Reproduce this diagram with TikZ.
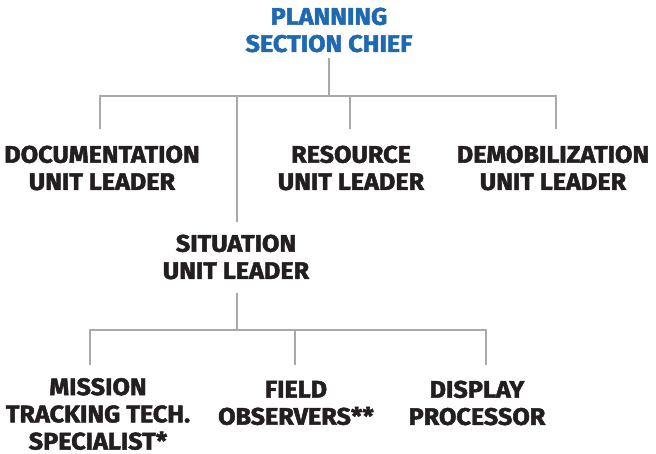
\documentclass[tikz,border=0pt]{standalone}
\usepackage{fontspec}
\setmainfont[BoldFeatures={FakeBold=2,FakeStretch=1.05}]{Fira Sans}
\definecolor{chiefblue}{HTML}{1F68B2}
\definecolor{txt}{HTML}{231F20}
\definecolor{linegray}{HTML}{A7A9AC}
\begin{document}
\begin{tikzpicture}[x=1pt,y=-1pt,
  lbl/.style={inner sep=0pt, align=center, text=txt, font=\fontsize{24}{27.2}\selectfont\bfseries},
  chief/.style={lbl, text=chiefblue},
  conn/.style={draw=linegray, line width=2.4pt}]
\useasboundingbox (0,0) rectangle (656,453);
\node[chief] (psc) at (329,30) {PLANNING\\SECTION CHIEF};
\node[lbl] (doc) at (102,168) {DOCUMENTATION\\UNIT LEADER};
\node[lbl] (res) at (351,168) {RESOURCE\\UNIT LEADER};
\node[lbl] (dem) at (553,168) {DEMOBILIZATION\\UNIT LEADER};
\node[lbl] (sit) at (236,257) {SITUATION\\UNIT LEADER};
\node[lbl] (mis) at (98,414) {MISSION\\TRACKING TECH.\\SPECIALIST*};
\node[lbl] (fld) at (296,403) {FIELD\\OBSERVERS**};
\node[lbl] (dsp) at (477,403) {DISPLAY\\PROCESSOR};
% junctions
\coordinate (t0) at (329,58);
\coordinate (tj) at (329,96);
\coordinate (tL) at (100,96);
\coordinate (tR) at (556,96);
\coordinate (dT) at (100,129);
\coordinate (sT) at (237,96);
\coordinate (sB) at (237,222);
\coordinate (rT) at (350,96);
\coordinate (rB) at (350,129);
\coordinate (eB) at (556,129);
\coordinate (b0) at (237,293);
\coordinate (bj) at (237,330);
\coordinate (bL) at (90,330);
\coordinate (bR) at (486,330);
\coordinate (mB) at (90,365);
\coordinate (fT) at (295,330);
\coordinate (fB) at (295,365);
\coordinate (pB) at (486,365);
\draw[conn] (t0) -- (tj);
\draw[conn] (dT) -- (tL) -- (tR) -- (eB);
\draw[conn] (sT) -- (sB);
\draw[conn] (rT) -- (rB);
\draw[conn] (b0) -- (bj);
\draw[conn] (mB) -- (bL) -- (bR) -- (pB);
\draw[conn] (fT) -- (fB);
\end{tikzpicture}
\end{document}
